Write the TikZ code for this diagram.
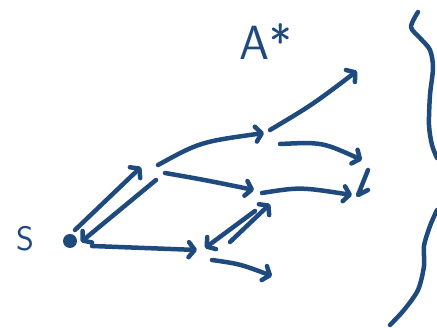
\documentclass[tikz,border=0pt]{standalone}
\usepackage{tikz}
\usetikzlibrary{
  arrows.meta,
  calc
}
\usepackage{xcolor}
\definecolor{inkblue}{HTML}{1F4A7E}
\tikzset{
  ink/.style={draw=inkblue, line width=4.5pt, line cap=round, line join=round},
  arrow/.style={ink, -{Straight Barb[length=6pt, width=15pt, line cap=round, line join=round]}},
  hand/.style={text=inkblue, inner sep=0pt, font=\sffamily\fontsize{34}{34}\selectfont},
}

\begin{document}
\begin{tikzpicture}[x=1pt, y=-1pt]
\useasboundingbox (0,0) rectangle (437,328);

% start and labels
\node[hand] (slabel) at (25,239) {S};
\node[hand, font=\sffamily\fontsize{48}{48}\selectfont] (astar) at (266,42) {A*};
\node[circle, fill=inkblue, inner sep=0pt, minimum size=14pt] (s) at (70,241) {};

% search points
\coordinate (n1) at (147,172);
\coordinate (n2) at (264,133);
\coordinate (n3) at (258,190);
\coordinate (n4) at (205,248);
\coordinate (n5) at (357,71);
\coordinate (n6) at (360,180);
\coordinate (n7) at (272,276);

% expansions
\draw[arrow] ([shift={(5,-11)}]s.center) -- ([shift={(-6,-5)}]n1);
\draw[arrow] ([shift={(9,8)}]n1) -- ([shift={(11,1)}]s.center);
\draw[arrow] ([shift={(22,5)}]s.center) -- ([shift={(-8,2)}]n4);
\draw[arrow] ([shift={(11,-7)}]n1) .. controls (200,142) .. (n2);
\draw[arrow] ([shift={(18,1)}]n1) .. controls (205,180) .. ([shift={(-4,0)}]n3);
\draw[arrow] ([shift={(6,-3)}]n2) .. controls (312,105) .. (n5);
\draw[arrow] ([shift={(16,11)}]n2) .. controls (322,142) .. ([shift={(2,-20)}]n6);
\draw[arrow] ([shift={(4,3)}]n3) .. controls (300,187) .. ([shift={(-8,15)}]n6);
\draw[ink] ([shift={(8,-10)}]n6) -- ([shift={(-2,15)}]n6) -- ([shift={(8,10)}]n6);
\draw[arrow] ([shift={(25,-6)}]n4) -- ([shift={(12,14)}]n3);
\draw[arrow] ([shift={(-3,21)}]n3) -- ([shift={(0,0)}]n4);
\draw[arrow] ([shift={(7,12)}]n4) .. controls (240,264) .. (n7);

% boundary
\draw[ink] plot[smooth] coordinates {(418,12) (411,27) (420,38) (430,50) (433,68) (430,95) (429,125) (432,145) (437,158)};
\draw[ink] plot[smooth] coordinates {(437,210) (430,226) (424,246) (424,266) (418,290) (404,310) (390,325)};

\end{tikzpicture}
\end{document}
